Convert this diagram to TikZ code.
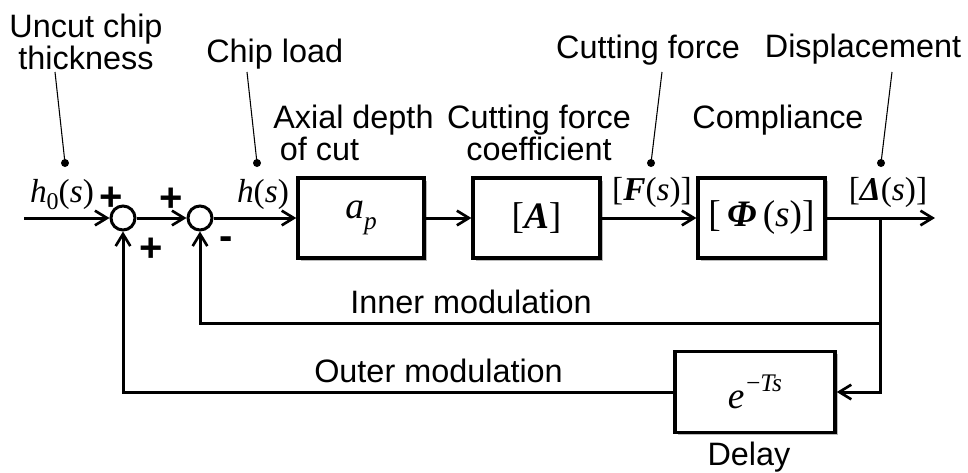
\documentclass[tikz,border=0pt]{standalone}
\usepackage{fontspec}
\setmainfont{Liberation Sans}
\newfontfamily\tms{Liberation Serif}
\usetikzlibrary{arrows.meta,shadows}
\begin{document}
\begin{tikzpicture}[x=0.75pt,y=-0.75pt,
  lbl/.style={font=\fontsize{24.3}{20.25}\selectfont, inner sep=0pt},
  mlbl/.style={font=\tms\fontsize{25}{26}\selectfont, inner sep=0pt},
  boxtxt/.style={font=\tms\fontsize{28}{28}\selectfont},
  blk/.style={draw, line width=2.6pt, fill=white, inner sep=0pt, boxtxt,
    drop shadow={shadow xshift=2.2pt, shadow yshift=-2.2pt, fill=black!45, opacity=0.6}},
  sumc/.style={circle, draw, line width=2.25pt, minimum size=18pt, inner sep=0pt, fill=white},
  sig/.style={inner sep=0pt, font=\bfseries\fontsize{30}{30}\selectfont},
  flow/.style={line width=2.25pt, line join=miter, -{Straight Barb[length=9pt,width=11pt,line width=2pt]}},
  lead/.style={line width=0.8pt},
  dot/.style={circle, fill, inner sep=0pt, minimum size=6pt},
]
\useasboundingbox (0,0) rectangle (968,472);

% summing junctions
\node[sumc] (s1) at (123,218) {};
\node[sumc] (s2) at (200,218) {};

% blocks
\node[blk, minimum width=94.5pt, minimum height=60pt] (ap) at (361,218)
  {\itshape a\raisebox{-0.28em}{\fontsize{19}{19}\selectfont p}};
\node[blk, minimum width=95pt, minimum height=60pt] (A) at (536.5,218)
  {[\textbf{\textit{A}}]};
\node[blk, minimum width=95pt, minimum height=60pt] (Phi) at (761.5,218)
  {\raisebox{-0.25em}{[\,\textbf{\textit{Φ}}\,(\textit{s})]}};
\node[blk, minimum width=120pt, minimum height=60.75pt] (D) at (755,392)
  {\itshape e\raisebox{0.45em}{\fontsize{19}{19}\selectfont −\kern-0.05em Ts}};

% coordinates
\coordinate (in) at (24,218);
\coordinate (out) at (935,218);
\coordinate (br) at (880,218);
\coordinate (bi) at (880,323);

% main path
\draw[flow] (in) -- (s1);
\draw[flow] (s1) -- (s2);
\draw[flow] (s2) -- (ap);
\draw[flow] (ap) -- (A);
\draw[flow] (A) -- (Phi);
\draw[flow] (Phi) -- (out);

% feedback
\draw[flow] (br) |- (D.east);
\draw[flow] (bi) -| (s2.south);
\draw[flow] (D.west) -| (s1.south);

% signs
\node[sig] (p1) at (111,199) {+};
\node[sig] (p2) at (171,200) {+};
\node[sig] (p3) at (151,250) {+};
\node[sig] (m1) at (226,243) {-};

% signal labels
\node[mlbl, anchor=base] (lh0) at (62,202) {\textit{h}\raisebox{-0.22em}{\fontsize{18}{18}\selectfont 0}(\textit{s})};
\node[mlbl, anchor=base] (lh) at (263,202) {\textit{h}(\textit{s})};
\node[mlbl, anchor=base] (lF) at (652,200) {[\textbf{\textit{F}}(\textit{s})]};
\node[mlbl, anchor=base] (lD) at (888,200) {[\textbf{\textit{Δ}}(\textit{s})]};

% leader dots
\node[dot] (d1) at (65,163) {};
\node[dot] (d2) at (257,163) {};
\node[dot] (d3) at (651,163) {};
\node[dot] (d4) at (881,163) {};
\coordinate (t1) at (55,72);
\coordinate (t2) at (247,72);
\coordinate (t3) at (662,72);
\coordinate (t4) at (892,72);
\draw[lead] (t1) -- (d1.center);
\draw[lead] (t2) -- (d2.center);
\draw[lead] (t3) -- (d3.center);
\draw[lead] (t4) -- (d4.center);

% text labels
\node[lbl, align=center, anchor=north] (uct) at (86,14) {Uncut chip\\thickness};
\node[lbl, anchor=base west] (cl) at (206,62) {Chip load};
\node[lbl, anchor=base] (cf) at (648,58) {Cutting force};
\node[lbl, anchor=base] (disp) at (863,57) {Displacement};
\node[lbl, align=left, anchor=north west] (adc) at (273,105) {Axial depth\\\hspace*{5pt}of cut};
\node[lbl, align=center, anchor=north] (cfc) at (539,105) {Cutting force\\coefficient};
\node[lbl, anchor=base] (comp) at (778,128) {Compliance};
\node[lbl, anchor=base west] (inner) at (350,313) {Inner modulation};
\node[lbl, anchor=base west] (outer) at (314,382) {Outer modulation};
\node[lbl, anchor=base] (delay) at (749,465) {Delay};
\end{tikzpicture}
\end{document}
